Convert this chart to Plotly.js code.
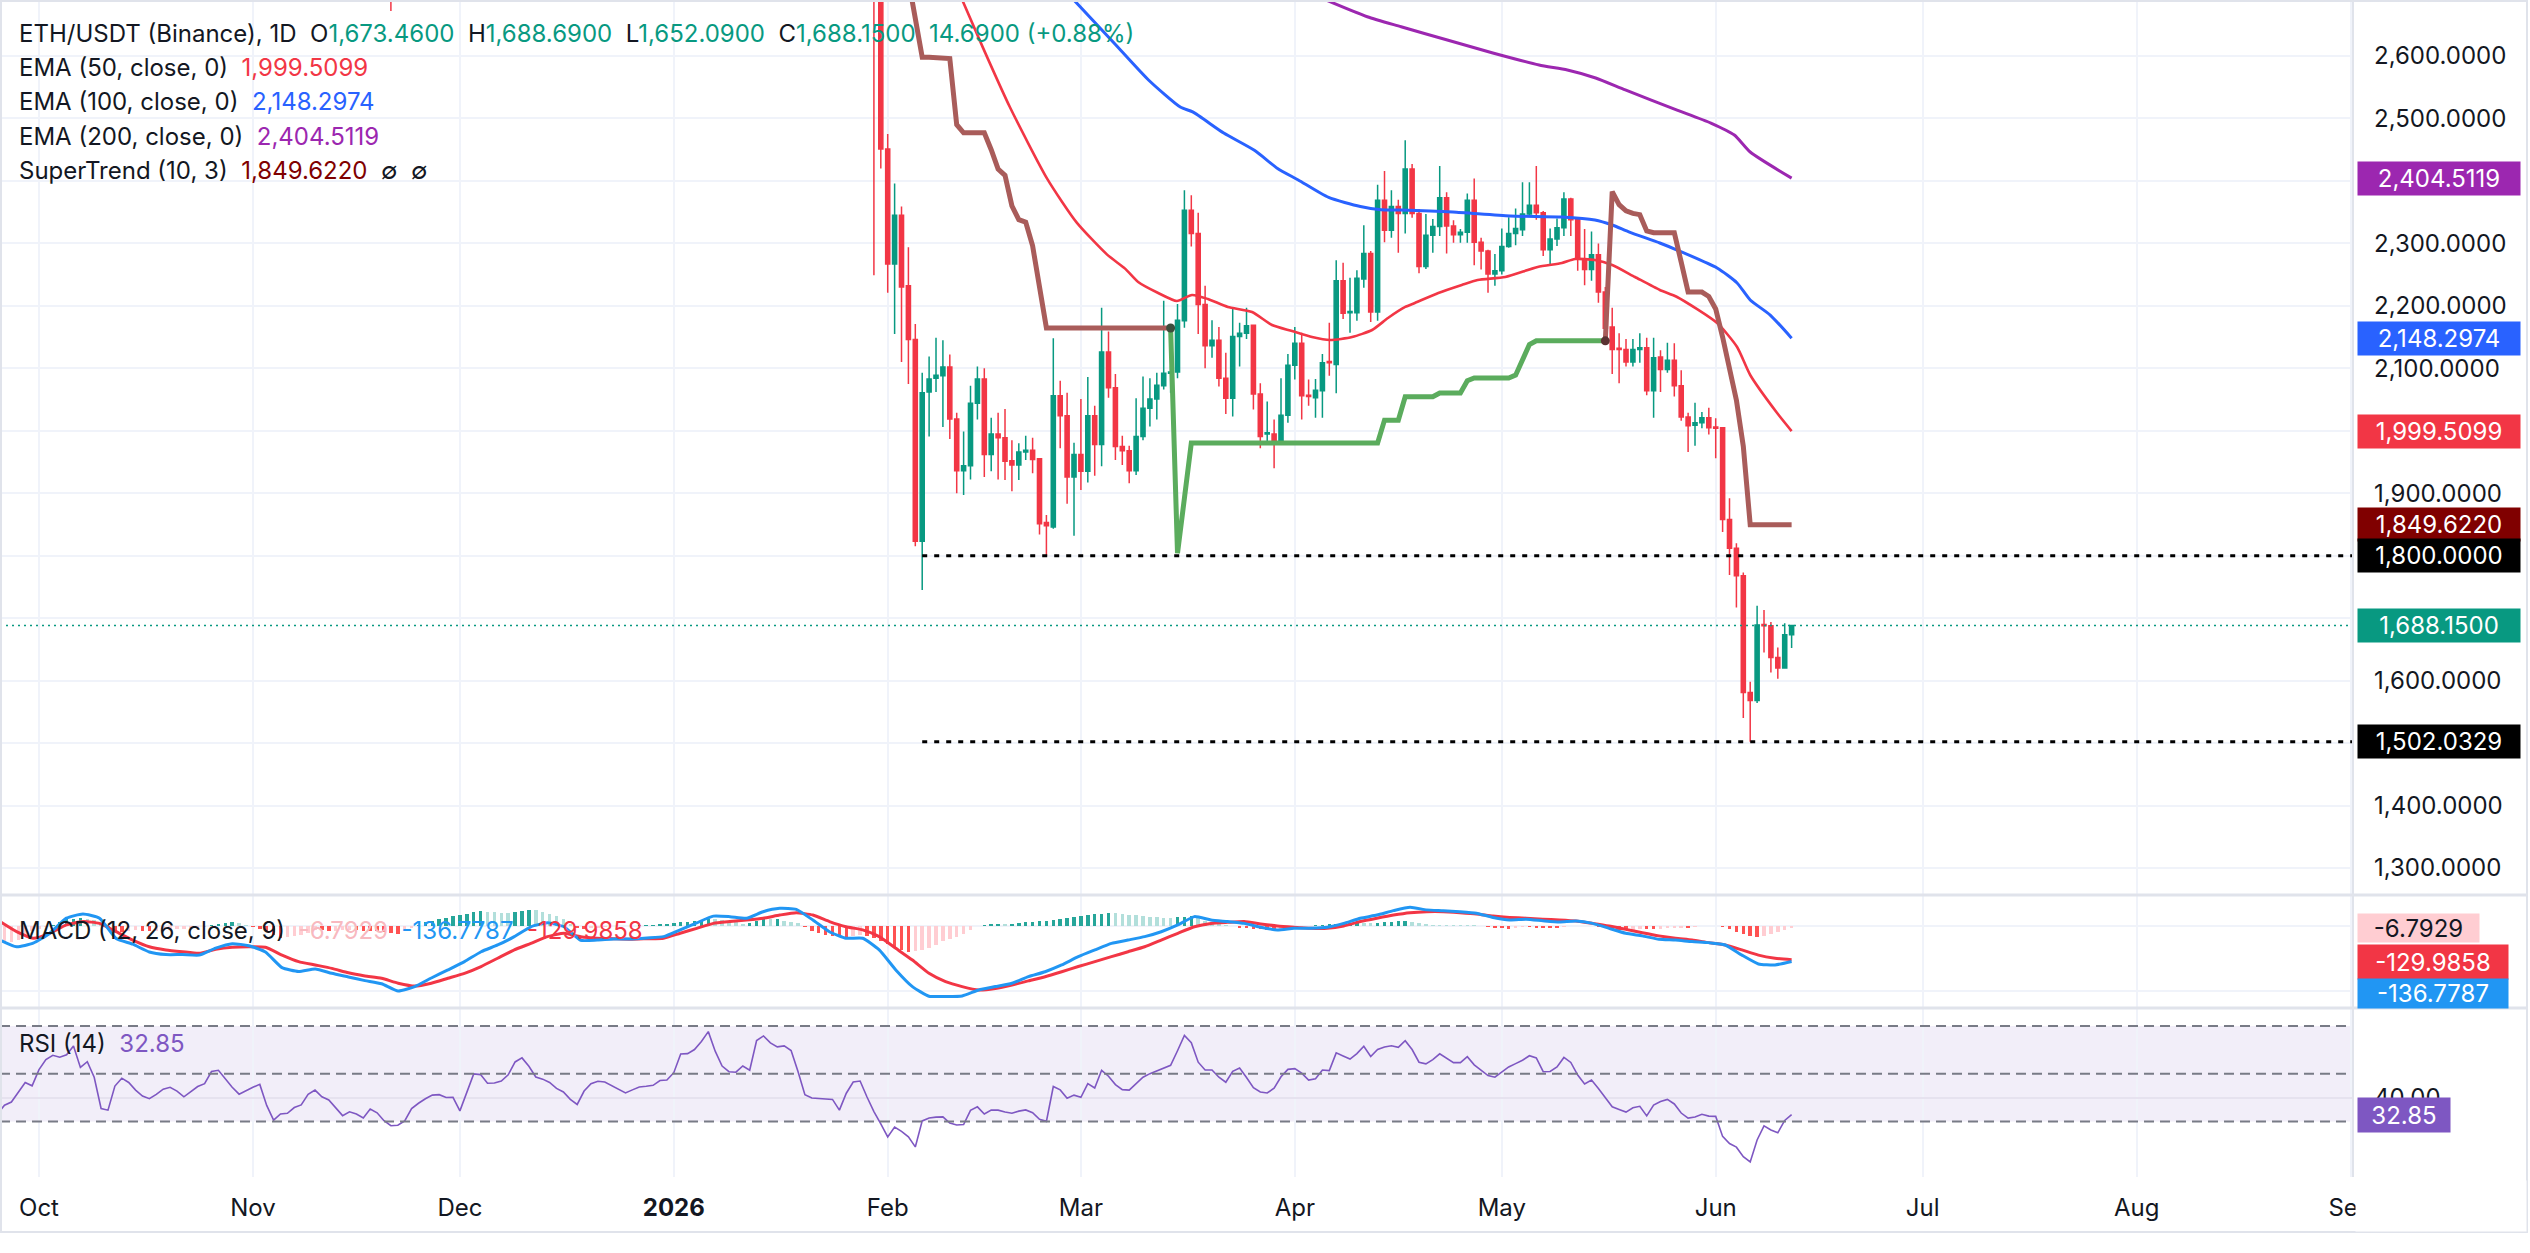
<!DOCTYPE html>
<html>
<head>
<meta charset="utf-8">
<script src="https://cdn.plot.ly/plotly-3.0.1.min.js"></script>
<style>
html,body{margin:0;padding:0;background:#ffffff;}
#chart{width:2530px;height:1253px;}
</style>
</head>
<body>
<div id="chart"></div>
<script>
// ===================== data =====================
// all day offsets are counted from this date
const dayZero = '2025-09-25';

// daily candles, Jan 30 .. Jun 12 2026
const candleFirstDate = '2026-01-30';
const candleOpen = [
  2790, 2710,
  2451, 2267, 2345, 2232, 2146, 1823, 2062, 2084, 2088, 2102, 2019, 1936, 1944, 2044, 2083, 1962, 1995, 1989, 1952, 1945, 1966, 1969, 1955, 1853, 1846, 2056, 2024, 1926,
  1962, 1935, 2024, 1978, 2126, 2069, 1975, 1968, 1936, 1991, 2036, 2051, 2072, 2092, 2094, 2176, 2353, 2316, 2202, 2136, 2145, 2084, 2052, 2151, 2156, 2169, 2059, 1995, 1995, 1982, 2025,
  2105, 2140, 2057, 2053, 2064, 2111, 2106, 2240, 2189, 2189, 2243, 2284, 2190, 2369, 2321, 2359, 2348, 2419, 2348, 2263, 2313, 2327, 2373, 2328, 2314, 2318, 2369, 2302, 2288, 2251,
  2256, 2295, 2316, 2322, 2347, 2361, 2349, 2290, 2307, 2325, 2371, 2339, 2275, 2258, 2282, 2222, 2166, 2132, 2130, 2110, 2130, 2133, 2064, 2118, 2098, 2113, 2072, 2022, 2009, 2013, 2021,
  2006, 2005, 1858, 1812, 1768, 1581, 1568, 1690, 1688, 1637, 1620, 1673.46
];
const candleHigh = [
  2800, 2720,
  2475, 2396, 2359, 2294, 2171, 2093, 2119, 2149, 2145, 2122, 2029, 1999, 2072, 2103, 2100, 2021, 2029, 2035, 1985, 1980, 1992, 1989, 1955, 1865, 2148, 2080, 2061, 1981,
  2051, 2086, 2040, 2197, 2159, 2091, 1992, 1976, 2052, 2087, 2084, 2093, 2208, 2104, 2203, 2385, 2377, 2349, 2232, 2177, 2166, 2125, 2197, 2173, 2197, 2170, 2076, 2047, 2018, 2084, 2123,
  2166, 2157, 2082, 2083, 2123, 2173, 2273, 2269, 2245, 2257, 2329, 2288, 2394, 2416, 2385, 2370, 2465, 2427, 2355, 2347, 2339, 2424, 2382, 2337, 2323, 2380, 2404, 2309, 2290, 2283,
  2324, 2342, 2356, 2398, 2398, 2424, 2352, 2324, 2340, 2382, 2373, 2340, 2323, 2319, 2300, 2230, 2197, 2156, 2147, 2147, 2156, 2149, 2149, 2129, 2141, 2140, 2097, 2029, 2045, 2030, 2037,
  2020, 2005, 1892, 1820, 1773, 1598, 1720, 1713, 1694, 1653, 1692, 1688.69
];
const candleLow = [
  2249, 2420,
  2221, 2155, 2110, 2075, 1815, 1745, 1991, 2062, 2006, 1987, 1900, 1897, 1922, 2018, 1926, 1935, 1922, 1921, 1903, 1921, 1953, 1932, 1834, 1800, 1843, 1972, 1883, 1832,
  1905, 1917, 1928, 1943, 2053, 1953, 1945, 1916, 1929, 1985, 2007, 2018, 2066, 2061, 2084, 2165, 2295, 2155, 2100, 2117, 2071, 2027, 2023, 2103, 2147, 2034, 1972, 1983, 1940, 1978, 2013,
  2082, 2018, 2040, 2021, 2021, 2088, 2060, 2179, 2157, 2176, 2229, 2174, 2176, 2302, 2309, 2285, 2316, 2341, 2252, 2259, 2285, 2312, 2284, 2301, 2301, 2301, 2265, 2258, 2221, 2232,
  2250, 2293, 2297, 2312, 2343, 2338, 2280, 2265, 2296, 2312, 2312, 2256, 2233, 2240, 2205, 2146, 2091, 2076, 2103, 2103, 2109, 2057, 2021, 2062, 2093, 2055, 2016, 1966, 1976, 2004, 1994,
  1956, 1838, 1769, 1717, 1540, 1502.0329, 1564, 1645, 1613, 1603, 1620, 1652.09
];
const candleClose = [
  2710, 2451,
  2267, 2345, 2230, 2146, 1823, 2061, 2083, 2089, 2102, 2019, 1936, 1944, 2044, 2083, 1962, 1995, 1989, 1951, 1945, 1966, 1969, 1954, 1851, 1848, 2056, 2024, 1926, 1962,
  1935, 2024, 1978, 2126, 2069, 1975, 1968, 1936, 1991, 2036, 2051, 2073, 2092, 2094, 2177, 2353, 2316, 2202, 2136, 2145, 2084, 2052, 2151, 2156, 2168, 2059, 1991, 1997, 1982, 2025, 2105,
  2140, 2056, 2055, 2065, 2109, 2109, 2240, 2188, 2191, 2244, 2284, 2190, 2369, 2321, 2359, 2348, 2419, 2348, 2263, 2313, 2327, 2373, 2328, 2314, 2318, 2369, 2302, 2288, 2251, 2256,
  2295, 2316, 2324, 2347, 2361, 2349, 2290, 2307, 2325, 2371, 2338, 2275, 2258, 2282, 2222, 2164, 2130, 2130, 2110, 2130, 2133, 2064, 2117, 2098, 2113, 2072, 2022, 2008, 2013, 2021, 2005,
  2004, 1858, 1812, 1768, 1581, 1568, 1689, 1688, 1637, 1620, 1673.46, 1688.15
];

// the one November candle whose wick dips into view
const lateNovDate = ['2025-11-21'];
const lateNovOpen = [2840];
const lateNovHigh = [2870];
const lateNovLow = [2672];
const lateNovClose = [2770];

// EMA lines: day offsets and values
const ema50Day = [139.4, 142.8, 146.7, 152.1, 156.4, 160.8, 163.4, 165.3, 168.2, 170.9, 173.1, 175.4, 178.3, 181.8, 184.7, 187.6, 190.5, 193.1, 196.3, 199.2, 201.5, 204, 205.4, 208.8, 212.2, 214.5, 218.5, 223.2, 226.7, 228.6, 231.5, 234, 237.3, 240.9, 243.4, 249.2, 252.1, 254, 257.9, 260];
const ema50Val = [2700, 2613.4, 2518.3, 2403.7, 2333.2, 2282, 2259.6, 2238.2, 2220.6, 2207.8, 2217.4, 2211, 2198.2, 2190.1, 2169.3, 2159.7, 2150.1, 2145.3, 2150.1, 2161.3, 2180.5, 2198.2, 2204.6, 2220.6, 2233.4, 2241.4, 2246.2, 2262.2, 2268.6, 2275, 2273.4, 2265.4, 2246.2, 2225.4, 2214.2, 2172.5, 2134.1, 2089.3, 2028.4, 1999.5099];
const ema100Day = [155.1, 161.8, 166.8, 171.4, 173.2, 177.7, 182.2, 185.5, 188.5, 192.9, 197.5, 200.5, 203.4, 210.9, 219.2, 226.7, 231.5, 234, 236.5, 240.9, 243.4, 249.2, 252.1, 254, 256.9, 260];
const ema100Val = [2700, 2620.8, 2561.6, 2518.3, 2510.5, 2476.7, 2448.7, 2420, 2401.5, 2373.5, 2359, 2354, 2353.4, 2350.2, 2343.8, 2342.2, 2337.4, 2329.4, 2318, 2300.6, 2289.4, 2260.6, 2236.6, 2209.4, 2185.3, 2148.2974];
const ema200Day = [190.5, 198.5, 203.4, 210.1, 216.7, 223.4, 227.5, 231.6, 235.9, 243.4, 248.3, 251.7, 254, 260];
const ema200Val = [2699, 2662.9, 2646.9, 2625.6, 2604.8, 2585.6, 2577.6, 2564.8, 2545.6, 2513.5, 2492.7, 2473.5, 2446.3, 2404.5119];

// SuperTrend (10, 3), one value per candle; null where that side is inactive
const stDown = [
  null, null, null, null, null,
  2722, 2660, 2598, 2598, 2597, 2596, 2596, 2490, 2477, 2477, 2477, 2477, 2450, 2419, 2409, 2360, 2338, 2334, 2296, 2230,
  2164.5, 2164.5, 2164.5, 2164.5, 2164.5, 2164.5, 2164.5, 2164.5, 2164.5, 2164.5, 2164.5, 2164.5, 2164.5, 2164.5, 2164.5, 2164.5, 2164.5, 2164.5, 2164.5,
  null, null, null, null, null, null, null, null, null, null, null, null, null, null, null, null, null, null, null, null, null, null, null, null, null, null, null, null, null, null, null,
  null, null, null, null, null, null, null, null, null, null, null, null, null, null, null, null, null, null, null, null, null, null, null, null, null, null, null, null, null, null, null,
  2144, 2383, 2362, 2352, 2348, 2346, 2320, 2317, 2317, 2317, 2317, 2270, 2222, 2222, 2222, 2215, 2195, 2150, 2100, 2049, 1975,
  1849.622, 1849.622, 1849.622, 1849.622, 1849.622, 1849.622, 1849.622
];
const stUp = [
  null, null, null, null, null, null, null, null, null, null, null, null, null, null, null, null, null, null, null, null, null, null,
  null, null, null, null, null, null, null, null, null, null, null, null, null, null, null, null, null, null, null, null, null,
  2164.5, 1804, 1892,
  1980.4, 1980.4, 1980.4, 1980.4, 1980.4, 1980.4, 1980.4, 1980.4, 1980.4, 1980.4, 1980.4, 1980.4, 1980.4, 1980.4,
  1980.4, 1980.4, 1980.4, 1980.4, 1980.4, 1980.4, 1980.4, 1980.4, 1980.4, 1980.4, 1980.4, 1980.4, 1980.4, 1980.4,
  2017, 2017, 2017, 2054.5, 2054.5, 2054.5, 2054.5, 2054.5, 2060.5, 2060.5, 2060.5, 2060.5, 2080,
  2084.5, 2084.5, 2084.5, 2084.5, 2084.5, 2084.5, 2089, 2112, 2138,
  2144, 2144, 2144, 2144, 2144, 2144, 2144, 2144, 2144, 2144, 2144,
  null, null, null, null, null, null, null, null, null, null, null, null, null, null, null, null, null, null, null, null, null, null, null, null, null, null, null
];

// horizontal levels
const levelLines = [1800, 1502.0329];
const levelFromDate = '2026-02-06';

// price scale ticks
const priceTicks = [1300, 1400, 1500, 1600, 1700, 1800, 1900, 2000, 2100, 2200, 2300, 2400, 2500, 2600];

// MACD (12, 26, close, 9): lines sampled evenly between these day offsets
const macdFirstDay = 0.35;
const macdLastDay = 260;
const macdLine = [-54, -80, -66, -28, 30, 46, 30, -48, -70, -100, -110, -110, -112, -85, -68, -76, -100, -160, -175, -165,
  -182, -196, -210, -222, -250, -233, -200, -169, -137, -99, -73, -41, -3, 12, -3, -55, -54, -50, -50, -46,
  -41, -15, 12, 38, 36, 30, 55, 68, 64, 23, -22, -47, -47, -92, -169, -233, -270, -271, -269, -246,
  -233, -220, -195, -176, -150, -118, -92, -67, -54, -41, -22, 4, 36, 23, 17, 10, -5, -15, -9,
  -9, -5, 10, 30, 42, 59, 72, 62, 59, 55, 49, 33, 23, 26, 20, 15, 19, 10, -9, -28,
  -38, -51, -54, -60, -64, -73, -112, -146, -150, -136.7787];
const macdSignal = [17, -22, -47, -28, 4, 17, 10, -22, -54, -80, -92, -99, -105, -90, -82, -80, -82, -112, -137, -150,
  -163, -180, -192, -201, -220, -231, -220, -201, -182, -156, -124, -92, -67, -41, -28, -41, -47, -49, -51, -49,
  -47, -28, -9, 10, 17, 23, 30, 42, 51, 42, 17, -3, -15, -41, -86, -131, -182, -214, -233, -246,
  -240, -227, -211, -195, -176, -156, -137, -118, -99, -80, -54, -28, -3, 10, 14, 17, 8, 0, -5,
  -9, -9, 0, 17, 30, 42, 51, 55, 55, 51, 46, 38, 33, 30, 26, 23, 19, 10, 0, -13,
  -26, -38, -47, -54, -64, -73, -92, -112, -124, -129.9858];
// daily histogram from dayZero
const macdHist = [
  -71, -67, -62, -55, -38, -21, -12, -4, 5, 16,
  26, 27, 29, 27, 23, 15, -3, -22, -22, -18,
  -17, -18, -20, -19, -18, -16, -13, -11, -9, -7,
  -3, 2, 7, 11, 14, 10, 5, -2, -11, -21,
  -33, -46, -44, -40, -34, -26, -15, -17, -19, -18,
  -17, -16, -17, -18, -19, -20, -23, -26, -30, -18,
  -6, 4, 14, 21, 26, 31, 37, 42, 47, 52,
  57, 54, 52, 51, 51, 52, 58, 63, 60, 55,
  48, 37, 25, 8, -8, -12, -9, -6, -4, -1,
  0, 1, 1, 2, 3, 4, 6, 8, 11, 14,
  17, 21, 23, 27, 26, 23, 19, 14, 9, 12,
  19, 25, 25, 26, 21, 16, 10, -2, -19, -28,
  -36, -40, -42, -43, -38, -33, -39, -47, -57, -70,
  -83, -92, -100, -98, -92, -85, -72, -59, -50, -41,
  -29, -14, 0, 3, 6, 7, 7, 8, 12, 15,
  17, 18, 20, 23, 26, 31, 36, 40, 43, 46,
  48, 51, 49, 46, 44, 42, 39, 36, 33, 32,
  32, 33, 35, 39, 30, 19, 11, 7, 3, -1,
  -6, -9, -11, -13, -14, -15, -11, -7, -3, -2,
  0, 2, 4, 6, 8, 10, 11, 13, 13, 12,
  13, 15, 17, 19, 21, 17, 12, 7, 5, 4,
  4, 4, 4, 3, 3, -1, -4, -6, -8, -10,
  -7, -4, -5, -6, -7, -8, -8, -4, -1, 0,
  0, -1, -5, -9, -11, -14, -15, -14, -12, -13,
  -13, -11, -9, -7, -6, -6, -4, -1, 0, 0,
  -2, -12, -22, -32, -40, -44, -38, -30, -22, -14,
  -6.7929
];

// RSI (14), daily from dayZero
const rsi14 = [
  33.2, 36.8, 38.1, 42.0, 46.3, 44.9, 51.7, 55.9, 57.7, 56.9,
  57.9, 61.6, 52.6, 55.0, 48.5, 35.4, 34.7, 44.8, 48.1, 46.3,
  43.1, 40.6, 39.5, 41.3, 43.5, 44.3, 42.7, 40.3, 42.3, 44.6,
  45.8, 50.9, 51.4, 47.9, 44.3, 41.4, 42.9, 44.3, 45.5, 36.7,
  30.5, 33.1, 33.4, 35.8, 36.9, 41.3, 43.1, 40.3, 39.0, 35.9,
  32.4, 34.0, 33.1, 31.4, 35.2, 33.6, 30.3, 28.2, 28.4, 30.2,
  35.4, 37.6, 39.5, 41.0, 41.2, 40.0, 40.1, 34.4, 42.6, 49.9,
  49.6, 46.0, 46.1, 46.9, 49.5, 54.9, 56.6, 53.1, 48.6, 47.7,
  46.3, 43.8, 42.3, 39.2, 37.1, 42.7, 45.8, 46.8, 46.5, 44.9,
  43.4, 41.9, 43.2, 44.4, 44.7, 45.1, 47.1, 47.3, 50.4, 58.2,
  58.4, 60.1, 63.5, 67.6, 59.4, 53.2, 50.8, 50.6, 53.2, 51.4,
  63.9, 65.8, 62.9, 61.2, 61.6, 59.7, 50.9, 41.2, 39.8, 39.6,
  39.4, 39.2, 34.7, 41.8, 46.5, 46.9, 40.2, 34.1, 29.0, 23.5,
  27.6, 25.8, 23.5, 19.3, 30.2, 31.4, 31.8, 31.9, 29.3, 28.5,
  28.7, 34.6, 36.1, 33.1, 34.7, 34.7, 33.9, 33.4, 34.3, 34.8,
  33.6, 30.9, 30.0, 44.6, 43.2, 39.7, 41.0, 40.1, 45.8, 44.0,
  51.4, 48.9, 45.4, 43.3, 43.1, 46.0, 48.5, 50.0, 51.2, 52.1,
  53.5, 59.6, 66.0, 63.0, 54.8, 51.5, 51.5, 48.5, 46.4, 51.0,
  52.4, 48.4, 44.1, 42.3, 41.9, 43.9, 48.7, 51.8, 52.1, 50.2,
  47.3, 47.9, 51.5, 51.3, 58.7, 57.4, 56.1, 58.4, 61.5, 57.2,
  60.1, 61.2, 61.7, 61.0, 63.8, 60.1, 54.8, 54.1, 55.9, 58.3,
  56.5, 54.6, 54.6, 57.1, 53.7, 51.6, 49.2, 48.5, 50.7, 52.8,
  54.2, 55.6, 57.5, 56.6, 50.8, 50.9, 52.8, 56.8, 54.7, 49.4,
  45.7, 47.3, 43.8, 39.8, 36.1, 35.0, 33.9, 35.7, 36.3, 32.3,
  36.8, 38.3, 39.2, 37.3, 33.5, 31.4, 31.8, 33.0, 32.2, 32.1,
  23.7, 20.7, 19.2, 15.2, 13.0, 22.2, 28.1, 26.4, 25.2, 30.4,
  32.85
];
const rsiBands = [70, 50, 30];

// time scale labels
const monthTicks = ['2025-10-01', '2025-11-01', '2025-12-01', '2026-01-01', '2026-02-01', '2026-03-01', '2026-04-01', '2026-05-01', '2026-06-01', '2026-07-01', '2026-08-01', '2026-09-01'];
const monthLabels = ['Oct', 'Nov', 'Dec', '2026', 'Feb', 'Mar', 'Apr', 'May', 'Jun', 'Jul', 'Aug', 'Sep'];

// ===================== helpers =====================
const DAY = 86400000;
const base = Date.parse(dayZero + 'T00:00:00Z');
const dt = d => new Date(base + d * DAY).toISOString().slice(0, 19).replace('T', ' ');
const fmt = (v, n) => {
  const parts = Math.abs(v).toFixed(n).split('.');
  parts[0] = parts[0].replace(/\B(?=(\d{3})+(?!\d))/g, ',');
  return (v < 0 ? '-' : '') + parts.join('.');
};

// pixel frame of the plotting area
const W = 2530, H = 1253;
const plotR = 2353, plotB = 1177;
const px = x => x / plotR;
const py = y => 1 - y / plotB;

const FONT = 'Inter, "Open Sans", Roboto, sans-serif';
const TXT = '#131722';
const UP = '#089981', DOWN = '#F23645';
const C50 = '#F23645', C100 = '#2962FF', C200 = '#9C27B0';
const ST_DN = '#A95C5A', ST_UP = '#5BAC5D', ST_LBL = '#800000';
const MACD_C = '#2196F3', SIG_C = '#F23645', RSI_C = '#7E57C2';
const GRID = '#F0F3FA', BORDER = '#E0E3EB';

const candleDay0 = (Date.parse(candleFirstDate + 'T00:00:00Z') - base) / DAY;
const candleX = candleOpen.map((_, i) => dt(candleDay0 + i));

const xStart = dt(0.348), xEnd = dt(341.36);
const priceRange = [1256.76, 2689.66];
const pricePanePx = 895;

// ===================== traces =====================
const traces = [];

traces.push({
  type: 'candlestick',
  x: lateNovDate.concat(candleX),
  open: lateNovOpen.concat(candleOpen),
  high: lateNovHigh.concat(candleHigh),
  low: lateNovLow.concat(candleLow),
  close: lateNovClose.concat(candleClose),
  increasing: { line: { color: UP, width: 1.5 }, fillcolor: UP },
  decreasing: { line: { color: DOWN, width: 1.5 }, fillcolor: DOWN },
  whiskerwidth: 0,
  xaxis: 'x', yaxis: 'y', hoverinfo: 'skip'
});

function emaTrace(days, vals, color, width) {
  return {
    type: 'scatter', mode: 'lines', x: days.map(dt), y: vals,
    line: { color, width, shape: 'spline', smoothing: 0.6 },
    xaxis: 'x', yaxis: 'y', hoverinfo: 'skip'
  };
}
traces.push(emaTrace(ema200Day, ema200Val, C200, 3));
traces.push(emaTrace(ema100Day, ema100Val, C100, 3));
traces.push(emaTrace(ema50Day, ema50Val, C50, 2.6));

traces.push({
  type: 'scatter', mode: 'lines', x: candleX, y: stDown, connectgaps: false,
  line: { color: ST_DN, width: 5, shape: 'linear' }, xaxis: 'x', yaxis: 'y', hoverinfo: 'skip'
});
traces.push({
  type: 'scatter', mode: 'lines', x: candleX, y: stUp, connectgaps: false,
  line: { color: ST_UP, width: 5, shape: 'linear' }, xaxis: 'x', yaxis: 'y', hoverinfo: 'skip'
});

// trend-change dots where a new SuperTrend side begins
const flipX = [], flipY = [], flipC = [];
for (let i = 1; i < candleX.length; i++) {
  if (stUp[i] !== null && stUp[i - 1] === null) { flipX.push(candleX[i]); flipY.push(stUp[i]); flipC.push('#3D4E3D'); }
  if (stDown[i] !== null && stDown[i - 1] === null && stUp[i] !== null) { flipX.push(candleX[i]); flipY.push(stDown[i]); flipC.push('#5A3232'); }
}
traces.push({
  type: 'scatter', mode: 'markers', x: flipX, y: flipY,
  marker: { color: flipC, size: 9 }, xaxis: 'x', yaxis: 'y', hoverinfo: 'skip'
});

// MACD pane
const histX = macdHist.map((_, i) => dt(i));
const histColors = macdHist.map((h, i) => {
  const p = i > 0 ? macdHist[i - 1] : h;
  if (h >= 0) return p < h ? '#26A69A' : '#B2DFDB';
  return p < h ? '#FFCDD2' : '#FF5252';
});
traces.push({
  type: 'bar', x: histX, y: macdHist, marker: { color: histColors, line: { width: 0 } },
  width: DAY * 0.5, xaxis: 'x', yaxis: 'y2', hoverinfo: 'skip'
});
const macdStep = (macdLastDay - macdFirstDay) / (macdLine.length - 1);
const macdX = macdLine.map((_, k) => dt(macdFirstDay + k * macdStep));
traces.push({
  type: 'scatter', mode: 'lines', x: macdX, y: macdSignal,
  line: { color: SIG_C, width: 3, shape: 'spline', smoothing: 0.5 }, xaxis: 'x', yaxis: 'y2', hoverinfo: 'skip'
});
traces.push({
  type: 'scatter', mode: 'lines', x: macdX, y: macdLine,
  line: { color: MACD_C, width: 3, shape: 'spline', smoothing: 0.5 }, xaxis: 'x', yaxis: 'y2', hoverinfo: 'skip'
});

// RSI pane
traces.push({
  type: 'scatter', mode: 'lines', x: rsi14.map((_, i) => dt(i)), y: rsi14,
  line: { color: RSI_C, width: 1.6 }, xaxis: 'x', yaxis: 'y3', hoverinfo: 'skip'
});

// ===================== shapes =====================
const shapes = [];
shapes.push({ type: 'rect', xref: 'paper', x0: 0, x1: 1, yref: 'y3', y0: rsiBands[2], y1: rsiBands[0],
  fillcolor: 'rgba(126,87,194,0.10)', line: { width: 0 }, layer: 'below' });
rsiBands.forEach(v => shapes.push({ type: 'line', xref: 'paper', x0: 0, x1: 1, yref: 'y3', y0: v, y1: v,
  line: { color: '#787B86', width: 2, dash: '10px,6px' } }));

levelLines.forEach(v => shapes.push({ type: 'line', xref: 'x', x0: levelFromDate, x1: xEnd, yref: 'y', y0: v, y1: v,
  line: { color: '#000000', width: 3, dash: '5px,7px' } }));

const lastClose = candleClose[candleClose.length - 1];
shapes.push({ type: 'line', xref: 'paper', x0: 0, x1: 1, yref: 'y', y0: lastClose, y1: lastClose,
  line: { color: UP, width: 1.5, dash: '2px,4px' } });

// pane separators, price-scale edge and outer frame
[895, 1008].forEach(y => shapes.push({ type: 'line', xref: 'paper', x0: 0, x1: px(2527), yref: 'paper', y0: py(y), y1: py(y),
  line: { color: BORDER, width: 3 } }));
shapes.push({ type: 'line', xref: 'paper', x0: 1, x1: 1, yref: 'paper', y0: 0, y1: 1, line: { color: BORDER, width: 2 } });
shapes.push({ type: 'rect', xref: 'paper', x0: px(1), x1: px(2527), yref: 'paper', y0: py(1232), y1: py(1),
  line: { color: BORDER, width: 2 }, fillcolor: 'rgba(0,0,0,0)' });

// ===================== annotations =====================
const ann = [];
const sp = '&nbsp;&nbsp;';
const col = (c, t) => `<span style="color:${c}">${t}</span>`;
function legendRow(yPix, text) {
  ann.push({ xref: 'paper', x: px(17), xanchor: 'left', yref: 'paper', y: py(yPix), yanchor: 'middle',
    text, showarrow: false, font: { family: FONT, size: 24, color: TXT }, align: 'left' });
}
const n = candleClose.length;
const prevClose = candleClose[n - 2];
const chg = lastClose - prevClose;
const pct = chg / prevClose * 100;
legendRow(33, 'ETH/USDT (Binance), 1D' + sp +
  'O' + col(UP, fmt(candleOpen[n - 1], 4)) + sp +
  'H' + col(UP, fmt(candleHigh[n - 1], 4)) + sp +
  'L' + col(UP, fmt(candleLow[n - 1], 4)) + sp +
  'C' + col(UP, fmt(lastClose, 4)) + sp +
  col(UP, fmt(chg, 4) + ' (' + (pct >= 0 ? '+' : '') + pct.toFixed(2) + '%)'));
const e50 = ema50Val[ema50Val.length - 1], e100 = ema100Val[ema100Val.length - 1], e200 = ema200Val[ema200Val.length - 1];
const stLast = stDown[stDown.length - 1];
legendRow(68, 'EMA (50, close, 0)' + sp + col(C50, fmt(e50, 4)));
legendRow(102, 'EMA (100, close, 0)' + sp + col(C100, fmt(e100, 4)));
legendRow(136, 'EMA (200, close, 0)' + sp + col(C200, fmt(e200, 4)));
legendRow(170, 'SuperTrend (10, 3)' + sp + col(ST_LBL, fmt(stLast, 4)) + sp + '∅' + sp + '∅');

const hLast = macdHist[macdHist.length - 1];
const mLast = macdLine[macdLine.length - 1];
const sLast = macdSignal[macdSignal.length - 1];
const hCol = histColors[histColors.length - 1];
legendRow(930, 'MACD (12, 26, close, 9)' + sp + col('#F8B9BF', fmt(hLast, 4)) + sp + col(MACD_C, fmt(mLast, 4)) + sp + col(SIG_C, fmt(sLast, 4)));
const rLast = rsi14[rsi14.length - 1];
legendRow(1043, 'RSI (14)' + sp + col(RSI_C, rLast.toFixed(2)));

// value tags on the right scale
function tag(yref, v, text, bg, fg, w, h, yshift) {
  ann.push({ xref: 'paper', x: px(2357), xanchor: 'left', yref, y: v, yanchor: 'middle', yshift: yshift || 0,
    text, showarrow: false, bgcolor: bg, width: w, height: h, borderpad: 0, align: 'center',
    font: { family: FONT, size: 24, color: fg } });
}
const priceTags = [
  [e200, C200], [e100, C100], [e50, C50], [stLast, ST_LBL],
  [levelLines[0], '#000000'], [lastClose, UP], [levelLines[1], '#000000']
];
priceTags.forEach(([v, c]) => tag('y', v, fmt(v, 4), c, '#ffffff', 162, 33));
tag('y2', hLast, fmt(hLast, 4), hCol, TXT, 121, 28);
tag('y2', sLast, fmt(sLast, 4), SIG_C, '#ffffff', 150, 34, -2);
tag('y2', mLast, fmt(mLast, 4), MACD_C, '#ffffff', 150, 29, -32);
tag('y3', rLast, rLast.toFixed(2), RSI_C, '#ffffff', 92, 34);

// scale labels that sit under a value tag are not printed
const pxPerUnit = pricePanePx / (priceRange[1] - priceRange[0]);
const priceTickText = priceTicks.map(t =>
  priceTags.some(([v]) => Math.abs(t - v) * pxPerUnit < 26) ? '' : fmt(t, 4));

// the price scale column hides the part of the last month label beyond the pane
ann.push({ xref: 'paper', x: px(2355), xanchor: 'left', yref: 'paper', y: py(1180), yanchor: 'top',
  text: '&nbsp;', showarrow: false, bgcolor: '#ffffff', width: 170, height: 50, borderpad: 0 });

// ===================== layout =====================
const layout = {
  width: W, height: H,
  margin: { l: 0, r: W - plotR, t: 0, b: H - plotB, pad: 0 },
  paper_bgcolor: '#ffffff', plot_bgcolor: '#ffffff',
  showlegend: false, hovermode: false, dragmode: false,
  font: { family: FONT, size: 24, color: TXT },
  boxgap: 0.23, boxgroupgap: 0.23,
  bargap: 0,
  xaxis: {
    type: 'date', range: [xStart, xEnd], anchor: 'y3', domain: [0, 1],
    tickvals: monthTicks, ticktext: monthLabels.map(t => /^\d{4}$/.test(t) ? '<b>' + t + '</b>' : t),
    showgrid: true, gridcolor: GRID, gridwidth: 2, zeroline: false, showline: false,
    ticks: '', ticklabelstandoff: 14, tickfont: { family: FONT, size: 24, color: TXT },
    rangeslider: { visible: false }, fixedrange: true
  },
  yaxis: {
    domain: [py(pricePanePx), 1], range: priceRange, side: 'right', anchor: 'x',
    tickvals: priceTicks, ticktext: priceTickText,
    showgrid: true, gridcolor: GRID, gridwidth: 2, zeroline: false, showline: false,
    ticks: '', ticklabelstandoff: 20, tickfont: { family: FONT, size: 24, color: TXT }, fixedrange: true
  },
  yaxis2: {
    domain: [py(1008), py(pricePanePx)], range: [-315.4, 119.2], side: 'right', anchor: 'x',
    tickvals: [0, -250], showticklabels: false,
    showgrid: true, gridcolor: GRID, gridwidth: 2, zeroline: false, showline: false, fixedrange: true
  },
  yaxis3: {
    domain: [0, py(1008)], range: [6.7, 77.5], side: 'right', anchor: 'x',
    tickvals: [40], ticktext: ['40.00'],
    showgrid: true, gridcolor: '#E6E2EF', gridwidth: 2, zeroline: false, showline: false,
    ticks: '', ticklabelstandoff: 20, tickfont: { family: FONT, size: 24, color: TXT }, fixedrange: true
  },
  shapes, annotations: ann
};

Plotly.newPlot('chart', traces, layout, { displayModeBar: false, staticPlot: true });
</script>
</body>
</html>
